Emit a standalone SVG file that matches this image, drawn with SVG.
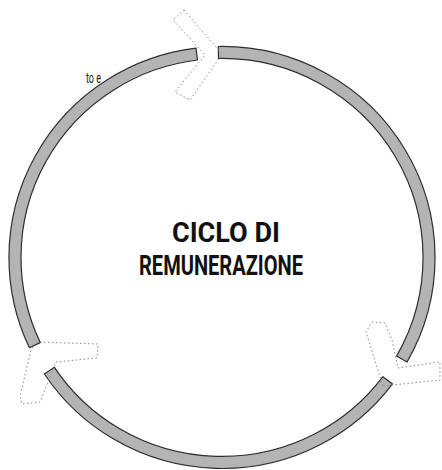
<svg xmlns="http://www.w3.org/2000/svg" width="442" height="470" viewBox="0 0 442 470">
<style>
.band{fill:#b4b4b4;stroke:#2e2e2e;stroke-width:1.2;stroke-linejoin:round}
.chev{fill:none;stroke:#8a8a8a;stroke-width:1;stroke-dasharray:1.5 2.5;stroke-linejoin:round}
</style>
<rect width="442" height="470" fill="#fff"/>
<g id="connectors">
<path class="band" d="M218.3 46.5 A213 211 0 0 1 407.0 362.1 L396.6 356.1 A201 199 0 0 0 218.5 58.5 Z"/>
<path class="band" d="M392.5 383.9 A213 211 0 0 1 44.4 374.0 L54.4 367.3 A201 199 0 0 0 382.9 376.7 Z"/>
<path class="band" d="M29.4 347.7 A213 211 0 0 1 196.0 48.1 L197.5 60.0 A201 199 0 0 0 40.3 342.6 Z"/>
<path class="chev" d="M184 10 L222 54 L190 100 L175 92 L205 55 L173 20 Z"/>
<path class="chev" d="M383 386 L366 332 L372 322 L385 323 L392 340 L398 368 L440 362 L440 380 Z"/>
<path class="chev" d="M36 342 L98 344 L97 358 L56 362 L40 402 L22 404 L20 396 L31 350 Z"/>
</g>
<g id="center">
<text x="172" y="242" font-family="Roboto, 'Liberation Sans', sans-serif" font-weight="bold" font-size="27" fill="#111" textLength="108" lengthAdjust="spacingAndGlyphs">CICLO DI</text>
<text x="139" y="275" font-family="Roboto, 'Liberation Sans', sans-serif" font-weight="bold" font-size="27" fill="#111" textLength="164" lengthAdjust="spacingAndGlyphs">REMUNERAZIONE</text>
</g>
<g id="side-label">
<text x="86" y="83" font-family="Roboto, 'Liberation Sans', sans-serif" font-size="14" fill="#222" textLength="15" lengthAdjust="spacingAndGlyphs">to e</text>
</g>
</svg>
